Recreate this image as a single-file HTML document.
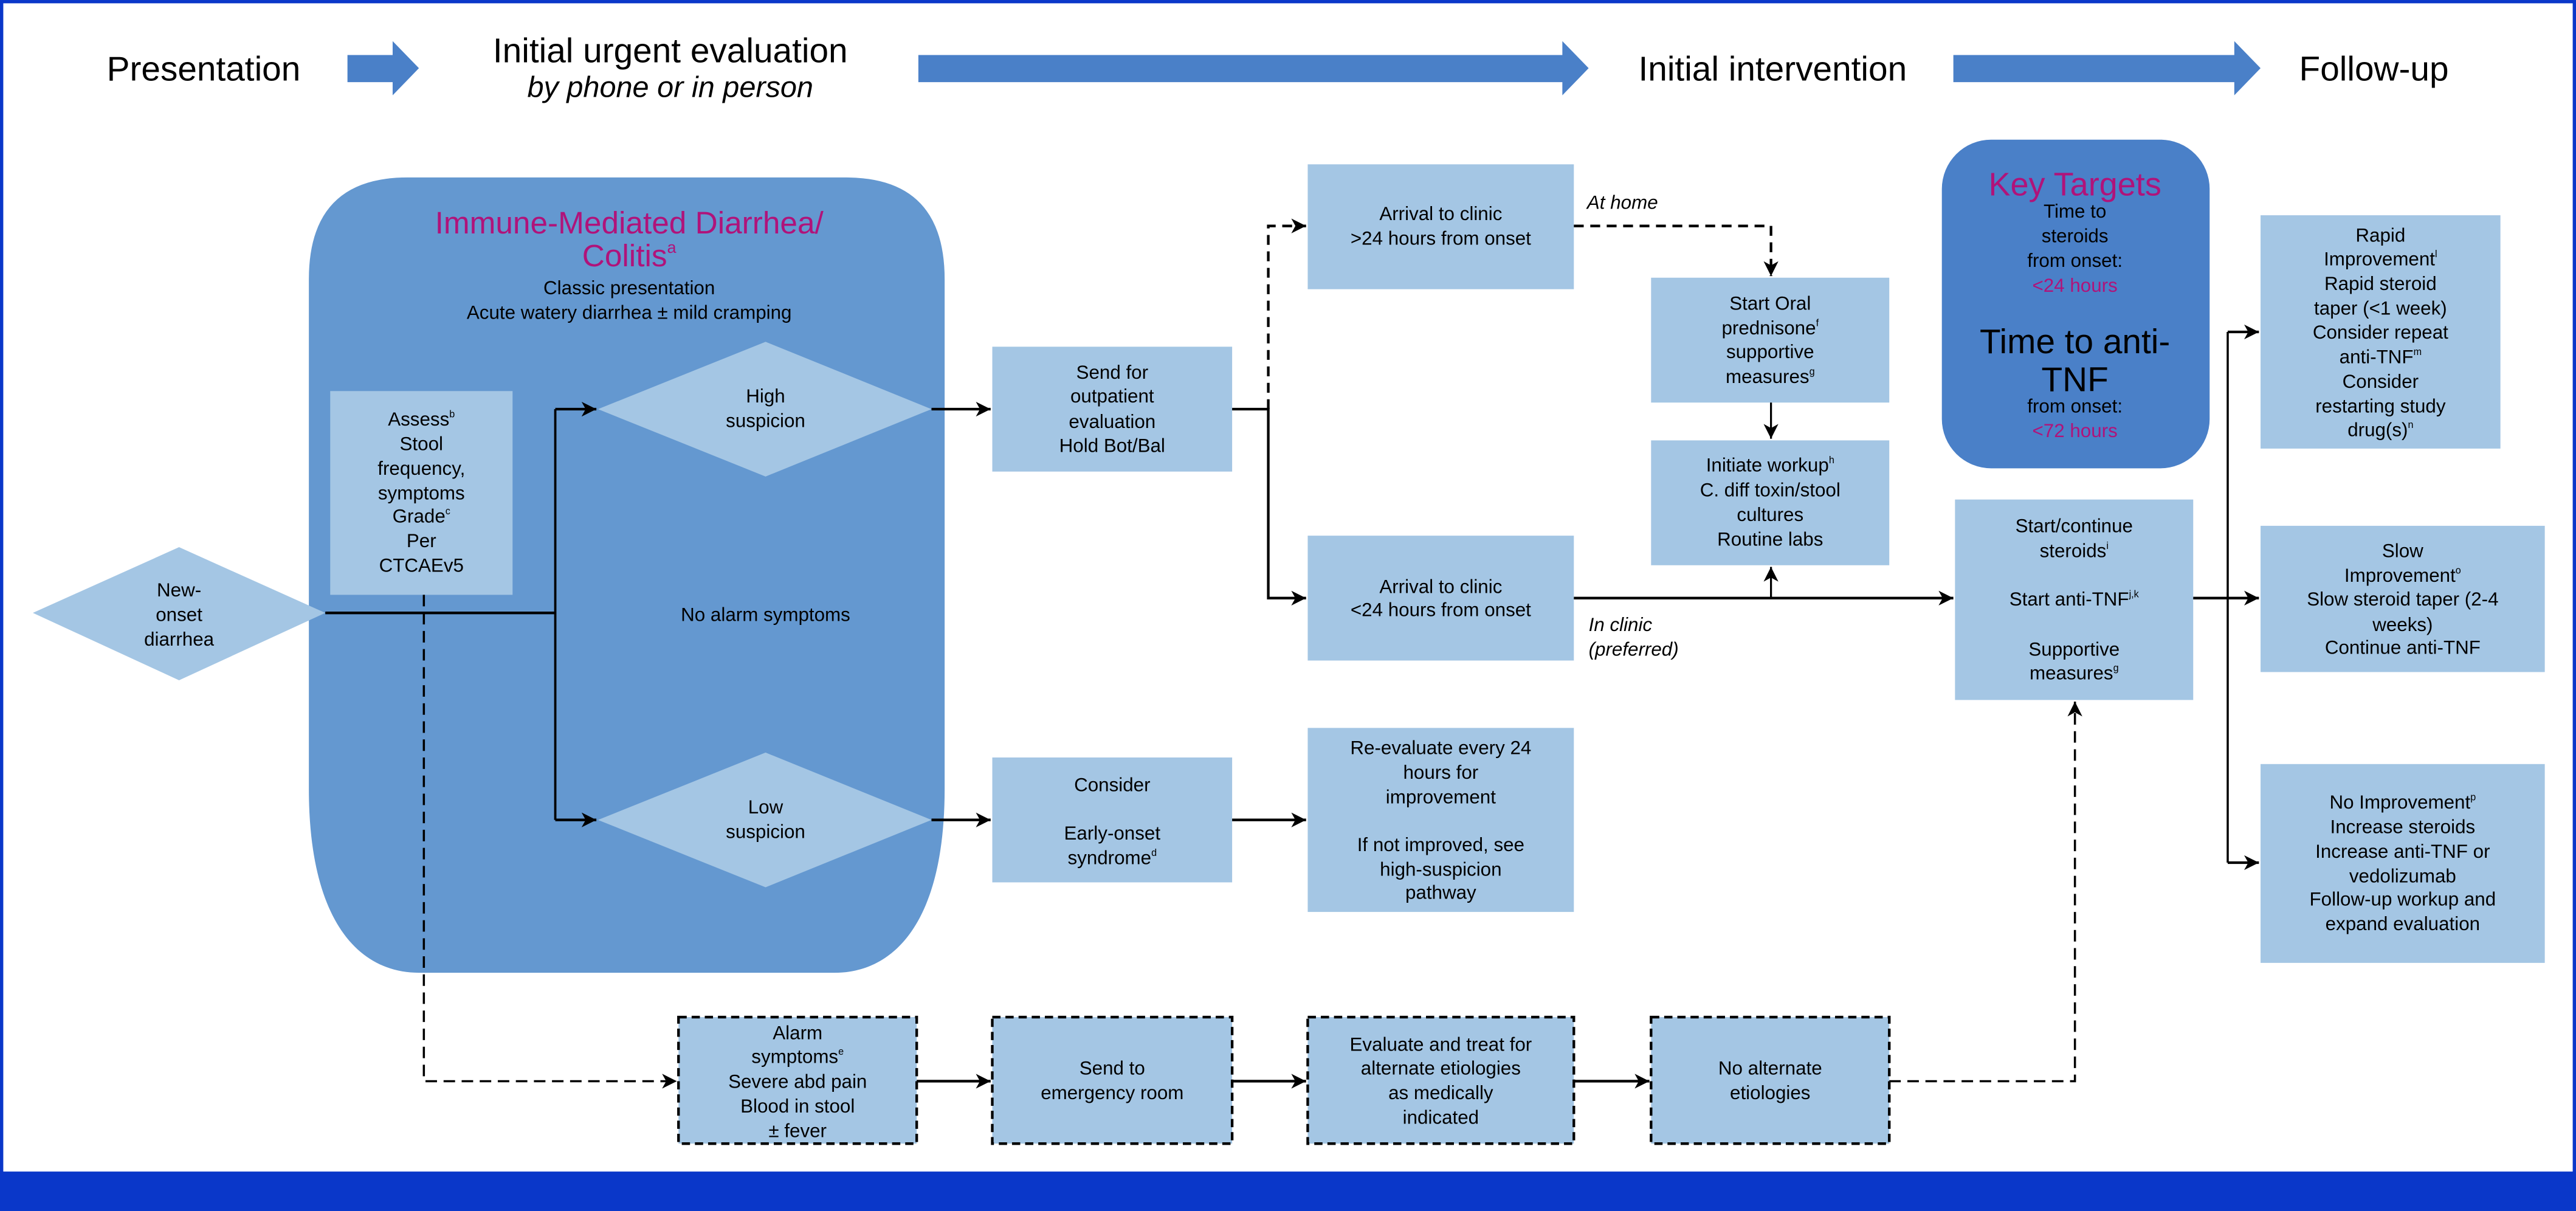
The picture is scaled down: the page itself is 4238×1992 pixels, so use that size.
<!DOCTYPE html>
<html><head><meta charset="utf-8"><style>
html,body{margin:0;padding:0;background:#fff}
svg{display:block}
text{font-family:"Liberation Sans Narrow","Liberation Sans",sans-serif;font-stretch:condensed;fill:#000}
.t{font-size:11.6px;text-anchor:middle}
.m{fill:#b0137a}
.h{font-size:21px}
.it{font-size:11.6px;font-style:italic;text-anchor:start}
</style></head><body>
<svg width="4238" height="1992" viewBox="0 0 1568 737" xmlns="http://www.w3.org/2000/svg">
<defs>
<marker id="a" markerUnits="userSpaceOnUse" markerWidth="10" markerHeight="10" refX="9" refY="5" orient="auto">
<path d="M0,0.5 L9,5 L0,9.5 L2.5,5 z" fill="#000"/></marker>
</defs>
<rect x="0" y="0" width="1568" height="737" fill="#fff"/>
<rect x="1" y="1" width="1566" height="720" fill="none" stroke="#0a37c9" stroke-width="2"/>
<rect x="0" y="713" width="1568" height="24" fill="#0a37c9"/>

<text x="65" y="49" class="h">Presentation</text>
<path d="M211.5,33.5 H239 V25 L255,41.5 L239,58 V50 H211.5 z" fill="#4a80c8"/>
<text x="408" y="38" class="h" text-anchor="middle">Initial urgent evaluation</text>
<text x="408" y="59" font-size="18" font-style="italic" text-anchor="middle">by phone or in person</text>
<path d="M559,33.5 H951 V25 L967,41.5 L951,58 V50 H559 z" fill="#4a80c8"/>
<text x="1079" y="49" class="h" text-anchor="middle">Initial intervention</text>
<path d="M1189,33.5 H1360 V25 L1376,41.5 L1360,58 V50 H1189 z" fill="#4a80c8"/>
<text x="1445" y="49" class="h" text-anchor="middle">Follow-up</text>

<path d="M188,170 Q188,108 248,108 H515 Q575,108 575,170 V480 C575,560 545,592 508,592 H255 C218,592 188,560 188,480 z" fill="#6498d0"/>
<text x="383" y="142" font-size="19" class="m" text-anchor="middle">Immune-Mediated Diarrhea/</text>
<text x="383" y="162" font-size="19" class="m" text-anchor="middle">Colitis<tspan font-size="10" dy="-8">a</tspan></text>
<text x="383" y="179" class="t">Classic presentation</text>
<text x="383" y="194" class="t">Acute watery diarrhea ± mild cramping</text>
<text x="466" y="378" class="t">No alarm symptoms</text>

<rect x="1182" y="85" width="163" height="200" rx="30" ry="30" fill="#4a80c8"/>
<text x="1263" y="119" font-size="20" class="m" text-anchor="middle">Key Targets</text>
<text x="1263" y="132.5" class="t">Time to</text>
<text x="1263" y="147.5" class="t">steroids</text>
<text x="1263" y="162.5" class="t">from onset:</text>
<text x="1263" y="177.5" class="t m">&lt;24 hours</text>
<text x="1263" y="215" font-size="21" text-anchor="middle">Time to anti-</text>
<text x="1263" y="238" font-size="21" text-anchor="middle">TNF</text>
<text x="1263" y="251" class="t">from onset:</text>
<text x="1263" y="266" class="t m">&lt;72 hours</text>

<g fill="#a4c6e4">
<rect x="201" y="238" width="111" height="124"/>
<rect x="604" y="211" width="146" height="76"/>
<rect x="796" y="100" width="162" height="76"/>
<rect x="796" y="326" width="162" height="76"/>
<rect x="1005" y="169" width="145" height="76"/>
<rect x="1005" y="268" width="145" height="76"/>
<rect x="1190" y="304" width="145" height="122"/>
<rect x="1376" y="131" width="146" height="142"/>
<rect x="1376" y="320" width="173" height="89"/>
<rect x="1376" y="465" width="173" height="121"/>
<rect x="604" y="461" width="146" height="76"/>
<rect x="796" y="443" width="162" height="112"/>
<polygon points="364,249 466,208 567,249 466,290"/>
<polygon points="364,499 466,458 567,499 466,540"/>
<polygon points="20,373 109,333 198,373 109,414"/>
</g>
<g fill="#a4c6e4" stroke="#000" stroke-width="1.6" stroke-dasharray="5,3">
<rect x="413" y="619" width="145" height="77"/>
<rect x="604" y="619" width="146" height="77"/>
<rect x="796" y="619" width="162" height="77"/>
<rect x="1005" y="619" width="145" height="77"/>
</g>

<text x="966" y="127" class="it">At home</text>
<text x="967" y="384" class="it">In clinic</text>
<text x="967" y="399" class="it">(preferred)</text>

<g>
<text x="256.5" y="259" class="t">Assess<tspan font-size="6" dy="-5">b</tspan></text>
<text x="256.5" y="274" class="t">Stool</text>
<text x="256.5" y="289" class="t">frequency,</text>
<text x="256.5" y="304" class="t">symptoms</text>
<text x="256.5" y="318" class="t">Grade<tspan font-size="6" dy="-5">c</tspan></text>
<text x="256.5" y="333" class="t">Per</text>
<text x="256.5" y="348" class="t">CTCAEv5</text>

<text x="109" y="363" class="t">New-</text>
<text x="109" y="378" class="t">onset</text>
<text x="109" y="393" class="t">diarrhea</text>

<text x="466" y="245" class="t">High</text>
<text x="466" y="260" class="t">suspicion</text>
<text x="466" y="495" class="t">Low</text>
<text x="466" y="510" class="t">suspicion</text>

<text x="677" y="230.5" class="t">Send for</text>
<text x="677" y="245" class="t">outpatient</text>
<text x="677" y="260.5" class="t">evaluation</text>
<text x="677" y="275" class="t">Hold Bot/Bal</text>

<text x="877" y="134" class="t">Arrival to clinic</text>
<text x="877" y="149" class="t">&gt;24 hours from onset</text>
<text x="877" y="361" class="t">Arrival to clinic</text>
<text x="877" y="375" class="t">&lt;24 hours from onset</text>

<text x="1077.5" y="188.5" class="t">Start Oral</text>
<text x="1077.5" y="203.5" class="t">prednisone<tspan font-size="6" dy="-5">f</tspan></text>
<text x="1077.5" y="218" class="t">supportive</text>
<text x="1077.5" y="233" class="t">measures<tspan font-size="6" dy="-5">g</tspan></text>

<text x="1077.5" y="287" class="t">Initiate workup<tspan font-size="6" dy="-5">h</tspan></text>
<text x="1077.5" y="302" class="t">C. diff toxin/stool</text>
<text x="1077.5" y="317" class="t">cultures</text>
<text x="1077.5" y="332" class="t">Routine labs</text>

<text x="1262.5" y="324" class="t">Start/continue</text>
<text x="1262.5" y="339" class="t">steroids<tspan font-size="6" dy="-5">i</tspan></text>
<text x="1262.5" y="368.5" class="t">Start anti-TNF<tspan font-size="6" dy="-5">j,k</tspan></text>
<text x="1262.5" y="399" class="t">Supportive</text>
<text x="1262.5" y="413.5" class="t">measures<tspan font-size="6" dy="-5">g</tspan></text>

<text x="1449" y="147" class="t">Rapid</text>
<text x="1449" y="161.5" class="t">Improvement<tspan font-size="6" dy="-5">l</tspan></text>
<text x="1449" y="176.5" class="t">Rapid steroid</text>
<text x="1449" y="191.5" class="t">taper (&lt;1 week)</text>
<text x="1449" y="206" class="t">Consider repeat</text>
<text x="1449" y="221" class="t">anti-TNF<tspan font-size="6" dy="-5">m</tspan></text>
<text x="1449" y="236" class="t">Consider</text>
<text x="1449" y="251" class="t">restarting study</text>
<text x="1449" y="265.5" class="t">drug(s)<tspan font-size="6" dy="-5">n</tspan></text>

<text x="1462.5" y="339" class="t">Slow</text>
<text x="1462.5" y="354" class="t">Improvement<tspan font-size="6" dy="-5">o</tspan></text>
<text x="1462.5" y="368.5" class="t">Slow steroid taper (2-4</text>
<text x="1462.5" y="384" class="t">weeks)</text>
<text x="1462.5" y="398" class="t">Continue anti-TNF</text>

<text x="1462.5" y="492" class="t">No Improvement<tspan font-size="6" dy="-5">p</tspan></text>
<text x="1462.5" y="507" class="t">Increase steroids</text>
<text x="1462.5" y="522" class="t">Increase anti-TNF or</text>
<text x="1462.5" y="537" class="t">vedolizumab</text>
<text x="1462.5" y="551" class="t">Follow-up workup and</text>
<text x="1462.5" y="566" class="t">expand evaluation</text>

<text x="677" y="481.5" class="t">Consider</text>
<text x="677" y="511" class="t">Early-onset</text>
<text x="677" y="526" class="t">syndrome<tspan font-size="6" dy="-5">d</tspan></text>

<text x="877" y="459" class="t">Re-evaluate every 24</text>
<text x="877" y="474" class="t">hours for</text>
<text x="877" y="489" class="t">improvement</text>
<text x="877" y="518" class="t">If not improved, see</text>
<text x="877" y="533" class="t">high-suspicion</text>
<text x="877" y="547" class="t">pathway</text>

<text x="485.5" y="632.5" class="t">Alarm</text>
<text x="485.5" y="647" class="t">symptoms<tspan font-size="6" dy="-5">e</tspan></text>
<text x="485.5" y="662" class="t">Severe abd pain</text>
<text x="485.5" y="677" class="t">Blood in stool</text>
<text x="485.5" y="692" class="t">± fever</text>

<text x="677" y="654" class="t">Send to</text>
<text x="677" y="669" class="t">emergency room</text>

<text x="877" y="639.5" class="t">Evaluate and treat for</text>
<text x="877" y="654" class="t">alternate etiologies</text>
<text x="877" y="669" class="t">as medically</text>
<text x="877" y="684" class="t">indicated</text>

<text x="1077.5" y="654" class="t">No alternate</text>
<text x="1077.5" y="669" class="t">etiologies</text>
</g>

<g fill="none" stroke="#000" stroke-width="1.6">
<path d="M198,373 H338"/>
<path d="M338,249 V499" stroke-width="1.4"/>
<path d="M338,249 H363" marker-end="url(#a)"/>
<path d="M338,499 H363" marker-end="url(#a)"/>
<path d="M567,249 H603" marker-end="url(#a)"/>
<path d="M567,499 H603" marker-end="url(#a)"/>
<path d="M750,499 H795" marker-end="url(#a)"/>
<path d="M750,249 H772 V364 H795" marker-end="url(#a)"/>
<path d="M772,249 V137.5 H795" stroke-dasharray="6,4" marker-end="url(#a)"/>
<path d="M958,137.5 H1078 V168" stroke-dasharray="6,4" marker-end="url(#a)"/>
<path d="M1078,245 V267" stroke-width="1.2" marker-end="url(#a)"/>
<path d="M958,364 H1189" marker-end="url(#a)"/>
<path d="M1078,364 V345" stroke-width="1.2" marker-end="url(#a)"/>
<path d="M1335,364 H1375" marker-end="url(#a)"/>
<path d="M1356,202 V525" stroke-width="1.3"/>
<path d="M1356,202 H1375" marker-end="url(#a)"/>
<path d="M1356,525 H1375" marker-end="url(#a)"/>
<path d="M258,362 V658 H412" stroke-width="1.3" stroke-dasharray="7,4" marker-end="url(#a)"/>
<path d="M558,658 H603" marker-end="url(#a)"/>
<path d="M750,658 H795" marker-end="url(#a)"/>
<path d="M958,658 H1004" marker-end="url(#a)"/>
<path d="M1150,658 H1263 V427" stroke-width="1.3" stroke-dasharray="7,4" marker-end="url(#a)"/>
</g>
</svg>
</body></html>
